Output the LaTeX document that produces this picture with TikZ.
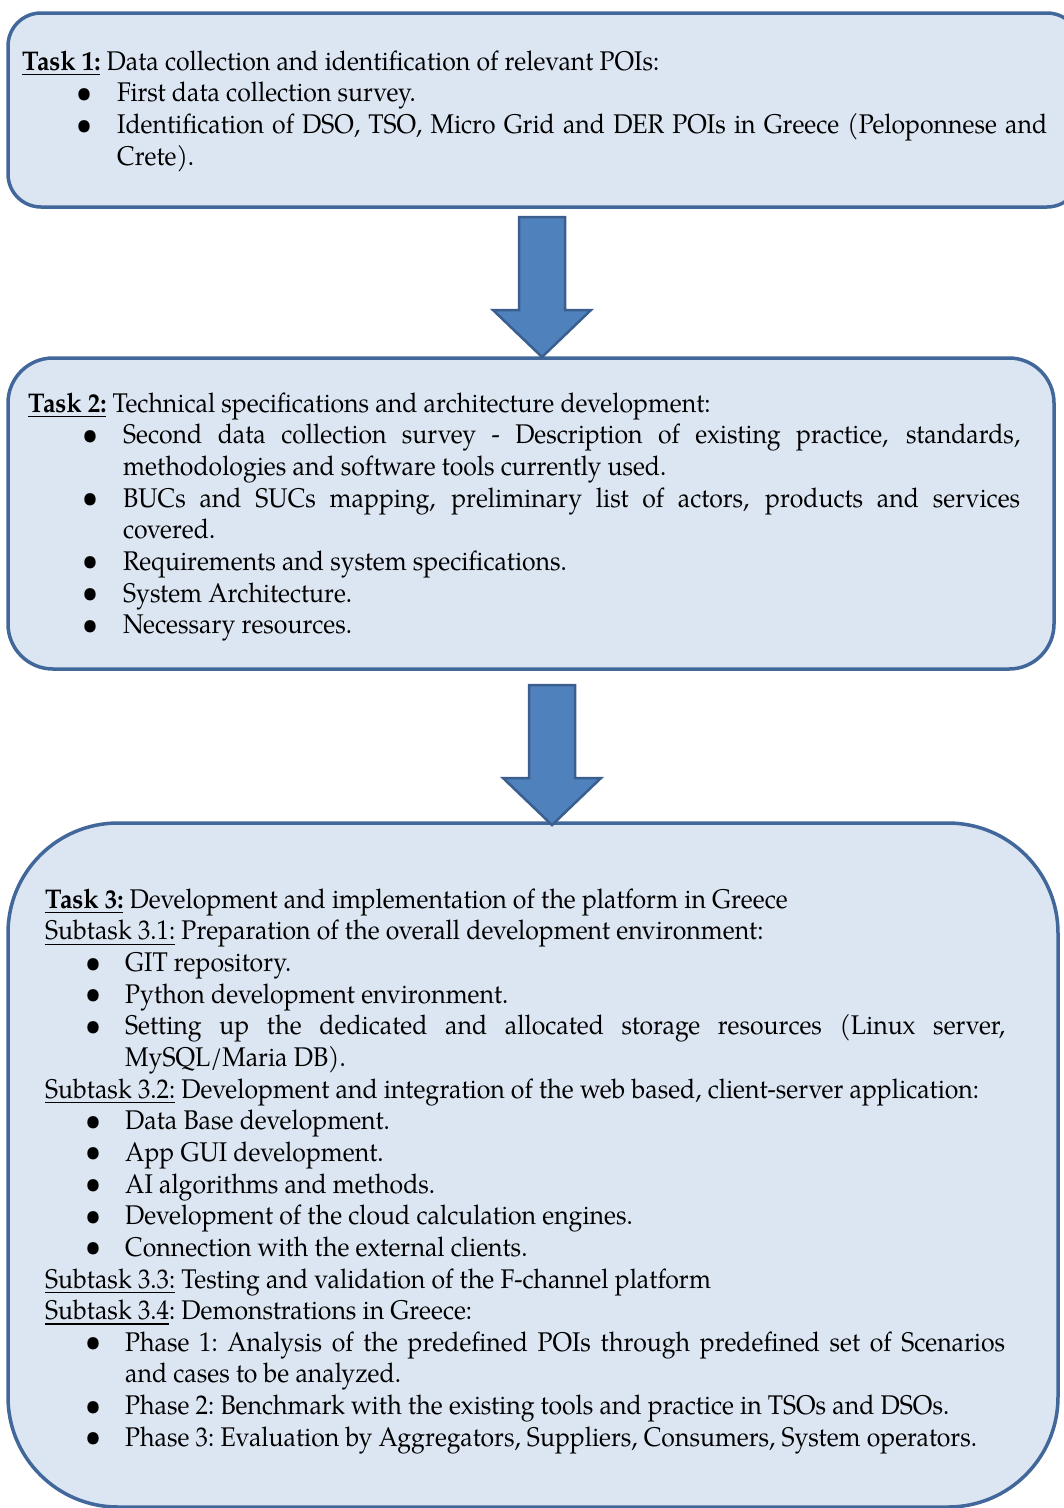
\documentclass[tikz,border=0pt]{standalone}
\usepackage{fontspec}
\setmainfont[FakeStretch=0.92]{TeX Gyre Pagella}
\definecolor{boxfill}{HTML}{DCE6F2}
\definecolor{boxline}{HTML}{41679B}
\definecolor{arrfill}{HTML}{4F81BD}
\definecolor{arrline}{HTML}{3A5F8E}
\newlength\bulpos
\newlength\bulind
\newcommand\ulx[1]{\setbox0\hbox{#1}\rlap{\vrule width\wd0 height-3.8pt depth5pt\relax}\box0\relax}
\newcommand\strt{\vrule width0pt height24pt depth0pt\relax}
\newcommand\txtsetup{\hyphenpenalty=10000 \exhyphenpenalty=10000 \lineskiplimit=-100pt \tolerance=10000 \spaceskip=\fontdimen2\font plus \fontdimen3\font\relax \xspaceskip=\spaceskip\relax}
\newcommand\bul[1]{\par\hangindent=\bulind\hangafter=1\noindent\makebox[\bulind][l]{\hspace*{\bulpos}\raisebox{-0.5pt}{\fontsize{31}{31.65}\selectfont\textbullet}}#1}
\tikzset{
  box/.style={draw=boxline, fill=boxfill, line width=3.5pt},
  arrowshape/.style={draw=arrline, fill=arrfill, line width=2.5pt, line join=miter},
  txt/.style={anchor=north west, inner sep=0pt, align=justify,
    font={\fontsize{27}{31.65}\selectfont\txtsetup}},
}
\begin{document}
\begin{tikzpicture}[x=1pt,y=-1pt]
\useasboundingbox (0,0) rectangle (1064,1508);
\clip (0,0) rectangle (1064,1508);
% boxes
\draw[box, rounded corners=33pt] (8,13) rectangle (1080,207);
\draw[box, rounded corners=45pt] (8,358) rectangle (1054,669);
\draw[box, rounded corners=110pt] (8,823) rectangle (1058,1507);
% arrows
\draw[arrowshape] (519,217) -- (565,217) -- (565,310) -- (591,310) -- (542,357) -- (493,310) -- (519,310) -- cycle;
\draw[arrowshape] (529,685) -- (575,685) -- (575,778) -- (601,778) -- (552,825) -- (503,778) -- (529,778) -- cycle;
% texts
\node[txt, text width=1025pt] (t1) at (22,46) {\setlength\bulpos{54pt}\setlength\bulind{95pt}%
\noindent\strt\ulx{\textbf{Task 1:}} Data collection and identification of relevant POIs:
\bul{First data collection survey.}
\bul{Identification of DSO, TSO, Micro Grid and DER POIs in Greece (Peloponnese and Crete).}\par};
\node[txt, text width=992pt] (t2) at (28,388) {\setlength\bulpos{54pt}\setlength\bulind{95pt}%
\noindent\strt\ulx{\textbf{Task 2:}} Technical specifications and architecture development:
\bul{Second data collection survey - Description of existing practice, standards, methodologies and software tools currently used.}
\bul{BUCs and SUCs mapping, preliminary list of actors, products and services covered.}
\bul{Requirements and system specifications.}
\bul{System Architecture.}
\bul{Necessary resources.}\par};
\node[txt, text width=960pt] (t3) at (45,884) {\setlength\bulpos{40pt}\setlength\bulind{80pt}%
\noindent\strt\ulx{\textbf{Task 3:}} Development and implementation of the platform in Greece
\par\noindent\ulx{Subtask 3.1:} Preparation of the overall development environment:
\bul{GIT repository.}
\bul{Python development environment.}
\bul{Setting up the dedicated and allocated storage resources (Linux server, MySQL/Maria DB).}
\par\noindent\ulx{Subtask 3.2:} Development and integration of the web based, client-server application:
\bul{Data Base development.}
\bul{App GUI development.}
\bul{AI algorithms and methods.}
\bul{Development of the cloud calculation engines.}
\bul{Connection with the external clients.}
\par\noindent\ulx{Subtask 3.3:} Testing and validation of the F-channel platform
\par\noindent\ulx{Subtask 3.4}: Demonstrations in Greece:
\bul{Phase 1: Analysis of the predefined POIs through predefined set of Scenarios and cases to be analyzed.}
\bul{Phase 2: Benchmark with the existing tools and practice in TSOs and DSOs.}
\bul{Phase 3: Evaluation by Aggregators, Suppliers, Consumers, System operators.}\par};
\end{tikzpicture}
\end{document}
